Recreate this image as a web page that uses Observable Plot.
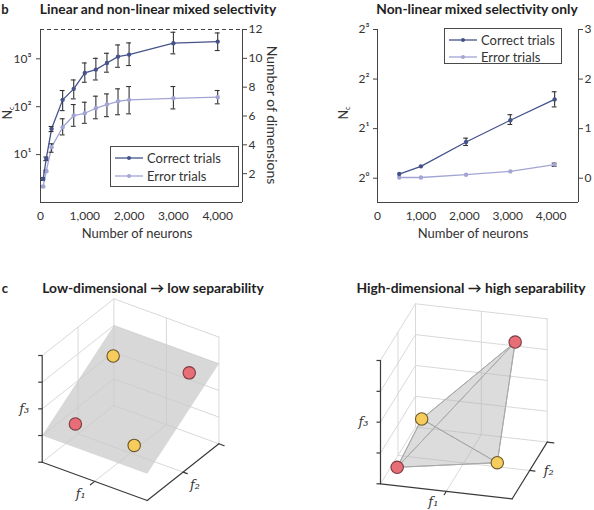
<!DOCTYPE html>
<html>
<head>
<meta charset="utf-8">
<script src="https://cdn.jsdelivr.net/npm/d3@7"></script>
<script src="https://cdn.jsdelivr.net/npm/@observablehq/plot@0.6"></script>
<style>
  html, body { margin: 0; padding: 0; background: #fff; }
  #fig { position: relative; width: 594px; height: 510px; background: #fff; overflow: hidden; font-family: Lato, sans-serif; }
  #fig svg { position: absolute; overflow: visible; }
  .lbl { position: absolute; white-space: nowrap; line-height: 1; color: #222; }
  .sub { position: relative; top: 0.3em; font-size: 0.6em; line-height: 0; }
</style>
</head>
<body>
<div id="fig"></div>
<script>
// ---------------- DATA ----------------
// Panel b (left): linear and non-linear mixed selectivity  (Nc values)
const neuronsA   = [60, 130, 250, 500, 750, 1000, 1250, 1500, 1750, 2000, 3000, 4000];
const correctA   = [3.1, 8.2, 34.5, 139, 236, 508, 596, 820, 1113, 1226, 2120, 2288];
const correctALo = [2.9, 7.5, 30.3, 83, 146, 324, 362, 526, 666, 724, 1270, 1490];
const correctAHi = [3.3, 8.9, 38.6, 218, 362, 820, 1024, 1305, 1950, 2150, 3590, 3470];
const errorA     = [2.16, 4.5, 14.3, 37.3, 65.4, 73, 93, 111, 130, 139, 150, 158];
const errorALo   = [2.1, 4.3, 11.2, 25.8, 39, 45, 56, 62, 68, 71, 90, 115];
const errorAHi   = [2.2, 4.7, 16.8, 56, 111, 124, 166, 185, 236, 264, 264, 218];

// Panel b (right): non-linear mixed selectivity only  (Nc values)
const neuronsB   = [500, 1000, 2040, 3060, 4080];
const correctB   = [1.06, 1.18, 1.66, 2.25, 3.01];
const correctBLo = [1.05, 1.17, 1.58, 2.12, 2.71];
const correctBHi = [1.07, 1.19, 1.75, 2.43, 3.35];
const errorB     = [1.01, 1.01, 1.05, 1.10, 1.21];
const errorBLo   = [1.01, 1.01, 1.05, 1.10, 1.18];
const errorBHi   = [1.01, 1.01, 1.05, 1.10, 1.235];

// Tick labels
const neuronTicks = [0, 1000, 2000, 3000, 4000];
const ncTicksA  = [10, 100, 1000];
const dimTicksA = [2, 4, 6, 8, 10, 12];
const ncTicksB  = [1, 2, 4, 8];
const dimTicksB = [0, 1, 2, 3];
const seriesNames = ["Correct trials", "Error trials"];

// Panel c: points in feature space (f1, f2, f3)
const lowF1 = [0.15, 0.82, 0.20, 0.76];
const lowF2 = [0.77, 0.85, 0.17, 0.17];
const lowF3 = [0.64, 0.68, 0.34, 0.34];
const lowClass = ["yellow", "red", "red", "yellow"];
const planeF1 = [0, 1, 1, 0];
const planeF2 = [0, 0, 1, 1];
const planeF3 = [0.25, 0.25, 0.75, 0.75];

const highF1 = [0.10, 0.81, 0.10, 0.86];
const highF2 = [0.10, 0.80, 0.80, 0.10];
const highF3 = [0.10, 0.88, 0.17, 0.23];
const highClass = ["red", "red", "yellow", "yellow"];
const tetraFaces = [[0, 1, 2], [0, 1, 3], [0, 2, 3], [1, 2, 3]];

// ---------------- STYLE ----------------
const correctColor = "#45538b";
const errorColor = "#a2a5d4";
const barColor = "#333";
const axisColor = "#444";
const dotFill = {yellow: "#f6cd5c", red: "#e76d76"};
const dotStroke = {yellow: "#6a5628", red: "#7c3b40"};
const fig = document.getElementById("fig");
const supDigits = {"0": "⁰", "1": "¹", "2": "²", "3": "³"};
const sup = s => String(s).split("").map(c => supDigits[c]).join("");
const L2 = Math.log2;

function place(el, left, top) {
  el.style.left = left + "px";
  el.style.top = top + "px";
  fig.append(el);
}
function label(html, x, y, {size = 13, weight = 400, rotate = 0, family = "Lato", color = "#222", style = "normal"} = {}) {
  const d = document.createElement("div");
  d.className = "lbl";
  d.innerHTML = html;
  d.style.left = x + "px";
  d.style.top = y + "px";
  d.style.font = `${style} ${weight} ${size}px ${family}`;
  d.style.lineHeight = "1";
  d.style.color = color;
  d.style.transform = `translate(-50%,-50%) rotate(${rotate}deg)`;
  fig.append(d);
}
function legend(x, y, w, h, rowGap) {
  const box = document.createElement("div");
  box.style.cssText = `position:absolute;left:${x}px;top:${y}px;width:${w}px;height:${h}px;border:1px solid #4a4a4a;background:#fff;box-sizing:border-box;`;
  [correctColor, errorColor].forEach((c, i) => {
    const row = document.createElement("div");
    row.style.cssText = `position:absolute;left:4px;top:${4 + i * rowGap}px;height:14px;display:flex;align-items:center;font:400 13px Lato;color:#333;white-space:nowrap;`;
    row.innerHTML = `<svg width="28" height="10" style="position:static;margin-right:4px"><line x1="0" x2="28" y1="5" y2="5" stroke="${c}" stroke-width="1.3"/><circle cx="14" cy="5" r="2" fill="${c}"/></svg>${seriesNames[i]}`;
    box.append(row);
  });
  fig.append(box);
}

function rows(ns, v, lo, hi) {
  return ns.map((n, i) => ({n, v: v[i], lo: lo[i], hi: hi[i]}));
}

// y channel is log2(Nc) (= number of dimensions), plotted on a linear scale
function seriesMarks(data, color, capHalf) {
  const bars = data.filter(d => d.hi / d.lo > 1.02);
  return [
    Plot.line(data, {x: "n", y: d => L2(d.v), stroke: color, strokeWidth: 1.3}),
    Plot.ruleX(bars, {x: "n", y1: d => L2(d.lo), y2: d => L2(d.hi), stroke: barColor, strokeWidth: 1.1}),
    Plot.ruleY(bars, {y: d => L2(d.hi), x1: d => d.n - capHalf, x2: d => d.n + capHalf, stroke: barColor, strokeWidth: 1.1}),
    Plot.ruleY(bars, {y: d => L2(d.lo), x1: d => d.n - capHalf, x2: d => d.n + capHalf, stroke: barColor, strokeWidth: 1.1}),
    Plot.dot(data, {x: "n", y: d => L2(d.v), r: 2.2, fill: color, stroke: "none"})
  ];
}

const axisStyle = {fontFamily: "Lato", fontSize: "12px", color: "#333", background: "transparent", overflow: "visible"};

// ---------------- PANEL b LEFT ----------------
const xMaxA = 4560;
const plotA = Plot.plot({
  width: 297, height: 250,
  marginLeft: 40, marginRight: 55, marginTop: 29, marginBottom: 48,
  style: axisStyle,
  x: {domain: [0, xMaxA]},
  y: {domain: [0, 12]},
  marks: [
    Plot.ruleY([12], {stroke: axisColor, strokeDasharray: "4,3"}),
    Plot.ruleY([0], {stroke: axisColor}),
    Plot.ruleX([0, xMaxA], {stroke: axisColor}),
    Plot.axisX({ticks: neuronTicks, tickFormat: d3.format(","), tickSize: 0, tickPadding: 9, label: null}),
    Plot.axisY({ticks: ncTicksA.map(L2), tickFormat: d => "10" + sup(Math.round(d * Math.LOG10E * Math.LN2)), tickSize: 4, tickPadding: 5, label: null, stroke: axisColor}),
    Plot.axisY({anchor: "right", ticks: dimTicksA, tickFormat: d => d, tickSize: 4, tickPadding: 2, label: null, stroke: axisColor}),
    ...seriesMarks(rows(neuronsA, errorA, errorALo, errorAHi), errorColor, 55),
    ...seriesMarks(rows(neuronsA, correctA, correctALo, correctAHi), correctColor, 55)
  ]
});
place(plotA, 0, 0);

// ---------------- PANEL b RIGHT ----------------
const xMaxB = 4630;
const plotB = Plot.plot({
  width: 294, height: 250,
  marginLeft: 77, marginRight: 16, marginTop: 29, marginBottom: 48,
  style: axisStyle,
  x: {domain: [0, xMaxB]},
  y: {domain: [-0.49, 3]},
  marks: [
    Plot.ruleY([-0.49], {stroke: axisColor}),
    Plot.ruleX([0, xMaxB], {stroke: axisColor}),
    Plot.axisX({ticks: neuronTicks, tickFormat: d3.format(","), tickSize: 0, tickPadding: 9, label: null}),
    Plot.axisY({ticks: ncTicksB.map(L2), tickFormat: d => "2" + sup(d), tickSize: 4, tickPadding: 4, label: null, stroke: axisColor}),
    Plot.axisY({anchor: "right", ticks: dimTicksB, tickFormat: d => d, tickSize: 4, tickPadding: 2, label: null, stroke: axisColor}),
    ...seriesMarks(rows(neuronsB, errorB, errorBLo, errorBHi), errorColor, 55),
    ...seriesMarks(rows(neuronsB, correctB, correctBLo, correctBHi), correctColor, 55)
  ]
});
place(plotB, 300, 0);

// ---------------- PANEL c (3D projections) ----------------
function projector(o, u, v, w) {
  return ([a, b, c]) => ({x: o[0] + a * u[0] + b * v[0] + c * w[0], y: o[1] + a * u[1] + b * v[1] + c * w[1]});
}
const quarters = [0.25, 0.5, 0.75, 1];
const gridSegs = [
  ...quarters.map(t => [[0, 0, t], [0, 1, t]]),
  [[0, 0.5, 0], [0, 0.5, 1]], [[0, 1, 0], [0, 1, 1]],
  ...quarters.map(t => [[0, 1, t], [1, 1, t]]),
  [[0.5, 1, 0], [0.5, 1, 1]], [[1, 1, 0], [1, 1, 1]],
  [[0.5, 0, 0], [0.5, 1, 0]], [[0, 0.5, 0], [1, 0.5, 0]],
  [[0, 0, 0], [0, 1, 0]], [[0, 1, 0], [1, 1, 0]]
];
const axisSegs = [
  [[0, 0, 0], [0, 0, 1]], [[0, 0, 0], [1, 0, 0]], [[1, 0, 0], [1, 1, 0]],
  [[0.5, 0, 0], [0.5, -0.06, 0]], [[1, 0.5, 0], [1.04, 0.5, 0]], [[1, 1, 0], [1.05, 1, 0]]
];
const f3Ticks = [0, ...quarters];

function segRows(segs, proj) {
  return segs.flatMap((s, i) => s.map(p => ({id: i, ...proj(p)})));
}

function cubePlot(proj, W, H, extraMarks, pts, labelPos) {
  return Plot.plot({
    width: W, height: H, margin: 0,
    style: {background: "transparent", overflow: "visible"},
    x: {domain: [0, W], range: [0, W], axis: null},
    y: {domain: [0, H], range: [0, H], axis: null},
    marks: [
      Plot.line(segRows(gridSegs, proj), {x: "x", y: "y", z: "id", stroke: "#d9d9d9", strokeWidth: 1}),
      ...extraMarks,
      Plot.line(segRows(axisSegs, proj), {x: "x", y: "y", z: "id", stroke: "#3a3a3a", strokeWidth: 1.2}),
      Plot.link(f3Ticks.map(t => proj([0, 0, t])), {x1: d => d.x - 4, x2: "x", y1: "y", y2: "y", stroke: "#3a3a3a", strokeWidth: 1.2}),
      Plot.dot(pts, {x: "x", y: "y", r: 6.2, fill: d => dotFill[d.cls], stroke: d => dotStroke[d.cls], strokeWidth: 1.1}),
      Plot.text(labelPos, {x: "x", y: "y", text: "t", fontFamily: "DejaVu Serif", fontStyle: "italic", fontSize: 13, fill: "#333"})
    ]
  });
}

// Low-dimensional
const projLow = projector([41.7, 191.7], [105, 38.3], [71.7, -56.7], [0, -106.7]);
const lowPts = lowF1.map((a, i) => ({...projLow([a, lowF2[i], lowF3[i]]), cls: lowClass[i]}));
const planeRows = planeF1.map((a, i) => projLow([a, planeF2[i], planeF3[i]]));
const lowLabels = [
  {...projLow([0, 0, 0.5]), t: "f₃", dx: -18, dy: 0},
  {...projLow([0.5, 0, 0]), t: "f₁", dx: -14, dy: 12},
  {...projLow([1, 0.5, 0]), t: "f₂", dx: 12, dy: 13}
].map(d => ({x: d.x + d.dx, y: d.y + d.dy, t: d.t}));
const plotLow = cubePlot(projLow, 297, 240, [
  Plot.line(planeRows, {x: "x", y: "y", fill: "#c9c9c9", fillOpacity: 0.72, stroke: "none"})
], lowPts, lowLabels);
place(plotLow, 0, 270);

// High-dimensional
const projHigh = projector([80, 213.3], [131.7, 15], [35, -56.7], [0, -123.3]);
const highPts = highF1.map((a, i) => ({...projHigh([a, highF2[i], highF3[i]]), cls: highClass[i]}));
const faceRows = tetraFaces.flatMap((f, k) => [...f, f[0]].map(i => ({face: k, ...highPts[i]})));
const highLabels = [
  {...projHigh([0, 0, 0.5]), t: "f₃", dx: -17, dy: 0},
  {...projHigh([0.5, 0, 0]), t: "f₁", dx: -13, dy: 11},
  {...projHigh([1, 0.5, 0]), t: "f₂", dx: 19, dy: 0}
].map(d => ({x: d.x + d.dx, y: d.y + d.dy, t: d.t}));
const plotHigh = cubePlot(projHigh, 294, 240, [
  Plot.line(faceRows, {x: "x", y: "y", z: "face", fill: "#b5b5b5", fillOpacity: 0.27, stroke: "#a9a9a9", strokeWidth: 1})
], highPts, highLabels);
place(plotHigh, 300, 270);

// ---------------- TEXT ----------------
label("b", 5, 9, {size: 13, weight: 700});
label("c", 5, 288, {size: 13, weight: 700});
label("Linear and non-linear mixed selectivity", 158, 9, {size: 13.8, weight: 700});
label("Non-linear mixed selectivity only", 477, 9, {size: 13.8, weight: 700});
label("Low-dimensional → low separability", 153, 288, {size: 13.8, weight: 700});
label("High-dimensional → high separability", 471, 288, {size: 13.8, weight: 700});
label("N<span class='sub'>c</span>", 7.5, 113, {size: 12.5, rotate: -90, color: "#333"});
label("N<span class='sub'>c</span>", 344, 113, {size: 12.5, rotate: -90, color: "#333"});
label("Number of dimensions", 272, 115, {size: 14, rotate: 90, color: "#333"});
label("Number of neurons", 137, 233, {size: 13, color: "#333"});
label("Number of neurons", 473, 233, {size: 13, color: "#333"});

legend(110, 146, 129, 41, 18);
legend(444, 28, 118, 36, 17);
</script>
</body>
</html>
